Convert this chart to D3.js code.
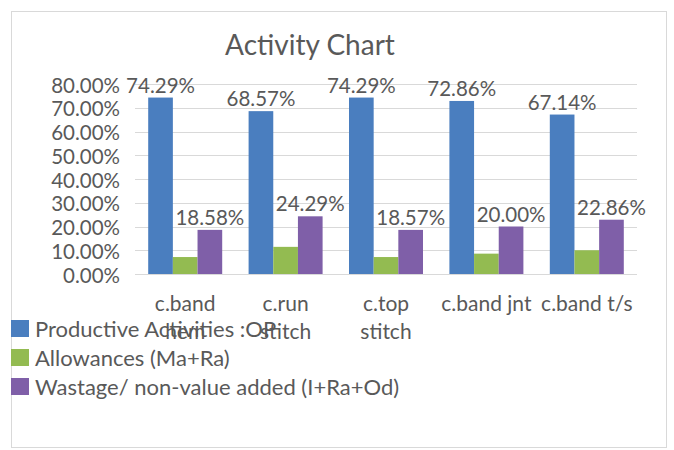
<!DOCTYPE html>
<html>
<head>
<meta charset="utf-8">
<script src="https://cdn.jsdelivr.net/npm/d3@7"></script>
<style>
  body { margin: 0; background: #fff; }
  text { font-family: Lato, "Open Sans", sans-serif; fill: #595959; }
</style>
</head>
<body>
<div id="chart"></div>
<script>
// data
var categories = ["c.band hem", "c.run stitch", "c.top stitch", "c.band jnt", "c.band t/s"];
var seriesNames = ["Productive Activities :OP", "Allowances (Ma+Ra)", "Wastage/ non-value added (I+Ra+Od)"];
var productive = [0.7429, 0.6857, 0.7429, 0.7286, 0.6714];
var allowances = [0.0714, 0.1143, 0.0714, 0.0857, 0.1000];
var wastage = [0.1858, 0.2429, 0.1857, 0.2000, 0.2286];
var showLabel = [true, false, true];
var yTicks = [0, 0.1, 0.2, 0.3, 0.4, 0.5, 0.6, 0.7, 0.8];
var colours = ["#4a7ebf", "#93bb51", "#7f5fa8"];

var width = 674, height = 450;
var plot = { left: 135, right: 637, top: 84, bottom: 274 };

var svg = d3.select("#chart").append("svg")
    .attr("width", width)
    .attr("height", height);

svg.append("rect")
    .attr("x", 11.5)
    .attr("y", 11.5)
    .attr("width", 655)
    .attr("height", 436)
    .attr("fill", "#fff")
    .attr("stroke", "#d9d9d9");

svg.append("text")
    .attr("x", 310)
    .attr("y", 55)
    .attr("text-anchor", "middle")
    .attr("font-size", "28px")
    .text("Activity Chart");

// scales
var y = d3.scaleLinear()
    .domain([0, 0.8])
    .range([plot.bottom, plot.top]);

var x0 = d3.scaleBand()
    .domain(categories)
    .range([plot.left, plot.right])
    .paddingInner(0.263)
    .paddingOuter(0.1315);

var x1 = d3.scaleBand()
    .domain(d3.range(seriesNames.length))
    .range([0, x0.bandwidth()]);

var fmt = d3.format(".2%");

// gridlines
svg.append("g")
    .selectAll("line")
    .data(yTicks)
    .enter().append("line")
    .attr("x1", plot.left)
    .attr("x2", plot.right)
    .attr("y1", function(d) { return Math.round(y(d)) + 0.5; })
    .attr("y2", function(d) { return Math.round(y(d)) + 0.5; })
    .attr("stroke", "#d9d9d9")
    .attr("stroke-width", 1);

// y axis labels, axis line hidden
var yAxis = d3.axisLeft(y)
    .tickValues(yTicks)
    .tickFormat(fmt)
    .tickSize(0)
    .tickPadding(0);

var yAxisGroup = svg.append("g")
    .attr("transform", "translate(120,0)")
    .call(yAxis);
yAxisGroup.select(".domain").remove();
yAxisGroup.selectAll("text")
    .attr("font-family", null)
    .attr("font-size", "20.5px")
    .attr("dy", "0.4em");
yAxisGroup.attr("font-family", null).attr("font-size", null);

// bars
var seriesData = [productive, allowances, wastage];

var groups = svg.append("g")
    .selectAll("g")
    .data(categories)
    .enter().append("g")
    .attr("transform", function(d) { return "translate(" + x0(d) + ",0)"; });

groups.selectAll("rect")
    .data(function(d, i) { return seriesData.map(function(s, k) { return { k: k, v: s[i] }; }); })
    .enter().append("rect")
    .attr("x", function(d) { return x1(d.k); })
    .attr("width", x1.bandwidth())
    .attr("y", function(d) { return y(d.v); })
    .attr("height", function(d) { return y(0) - y(d.v); })
    .attr("fill", function(d) { return colours[d.k]; });

groups.selectAll(".label")
    .data(function(d, i) {
        return seriesData.map(function(s, k) { return { k: k, v: s[i] }; })
            .filter(function(d) { return showLabel[d.k]; });
    })
    .enter().append("text")
    .attr("class", "label")
    .attr("x", function(d) { return x1(d.k) + x1.bandwidth() / 2; })
    .attr("y", function(d) { return y(d.v) - 5; })
    .attr("text-anchor", "middle")
    .attr("font-size", "20.5px")
    .text(function(d) { return fmt(d.v); });

// category labels, wrapped to the band step like excel does
var step = x0.step();
var catLabels = svg.append("g")
    .selectAll("text")
    .data(categories)
    .enter().append("text")
    .attr("text-anchor", "middle")
    .attr("font-size", "21px")
    .attr("x", function(d) { return x0(d) + x0.bandwidth() / 2; })
    .attr("y", 311);

catLabels.each(function(d) {
    var t = d3.select(this);
    var cx = t.attr("x");
    var words = d.split(" ");
    var line = [];
    var lineNo = 0;
    var tspan = t.append("tspan").attr("x", cx).attr("dy", 0);
    words.forEach(function(w) {
        line.push(w);
        tspan.text(line.join(" "));
        if (line.length > 1 && tspan.node().getComputedTextLength() > step) {
            line.pop();
            tspan.text(line.join(" "));
            line = [w];
            lineNo++;
            tspan = t.append("tspan").attr("x", cx).attr("dy", 28).text(w);
        }
    });
});

// legend
var legend = svg.append("g")
    .selectAll("g")
    .data(seriesNames)
    .enter().append("g")
    .attr("transform", function(d, i) { return "translate(11," + (320 + i * 29) + ")"; });

legend.append("rect")
    .attr("width", 18)
    .attr("height", 17)
    .attr("fill", function(d, i) { return colours[i]; });

legend.append("text")
    .attr("x", 24)
    .attr("y", 9)
    .attr("dy", "0.36em")
    .attr("font-size", "22px")
    .text(function(d) { return d; });
</script>
</body>
</html>
